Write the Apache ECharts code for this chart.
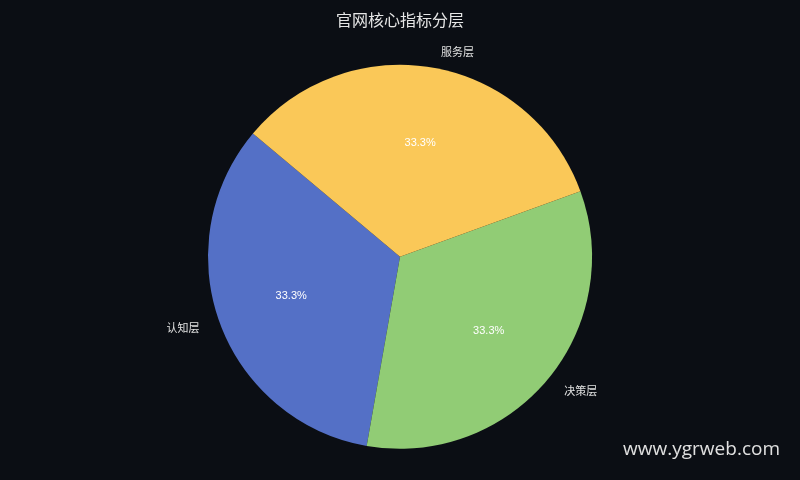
<!DOCTYPE html>
<html>
<head>
<meta charset="utf-8">
<script src="https://cdn.jsdelivr.net/npm/echarts@6/dist/echarts.min.js"></script>
<style>
  html, body { margin: 0; padding: 0; background: #0b0e14; }
  #main { width: 800px; height: 480px; }
</style>
</head>
<body>
<div id="main"></div>
<script>
var categories = ['认知层', '决策层', '服务层'];
var values = [1, 1, 1];
var colors = ['#5470c6', '#91cc75', '#fac858'];

var total = values.reduce(function (a, b) { return a + b; }, 0);
var pieData = categories.map(function (name, i) {
  return { name: name, value: values[i], itemStyle: { color: colors[i] } };
});

var myChart = echarts.init(document.getElementById('main'));
var option = {
  backgroundColor: '#0b0e14',
  title: {
    text: '官网核心指标分层',
    left: 'center',
    top: 7,
    textStyle: { color: '#e6e6e6', fontSize: 16, fontWeight: 'normal', fontFamily: 'Noto Sans CJK SC' }
  },
  graphic: [{
    type: 'text',
    right: 20,
    bottom: 21,
    style: { text: 'www.ygrweb.com', fill: '#e0e0e0', fontSize: 19, fontFamily: 'Open Sans' }
  }],
  series: [{
    type: 'pie',
    center: ['50%', '53.5%'],
    radius: '80%',
    startAngle: 140,
    clockwise: false,
    data: pieData,
    label: { show: true, position: 'outside', color: '#e0e0e0', fontSize: 11, fontFamily: 'Noto Sans CJK SC' },
    labelLine: { show: false, length: 16, length2: 0 },
    emphasis: { disabled: true }
  }, {
    // 内部百分比标签
    type: 'pie',
    center: ['50%', '53.5%'],
    radius: ['0%', '94%'],
    startAngle: 140,
    clockwise: false,
    silent: true,
    data: pieData.map(function (d) {
      return { name: d.name, value: d.value, itemStyle: { color: 'transparent' } };
    }),
    label: {
      show: true,
      position: 'inside',
      formatter: function (p) { return (p.value / total * 100).toFixed(1) + '%'; },
      color: '#ffffff',
      fontSize: 11
    },
    labelLine: { show: false }
  }]
};
myChart.setOption(option);
</script>
</body>
</html>
